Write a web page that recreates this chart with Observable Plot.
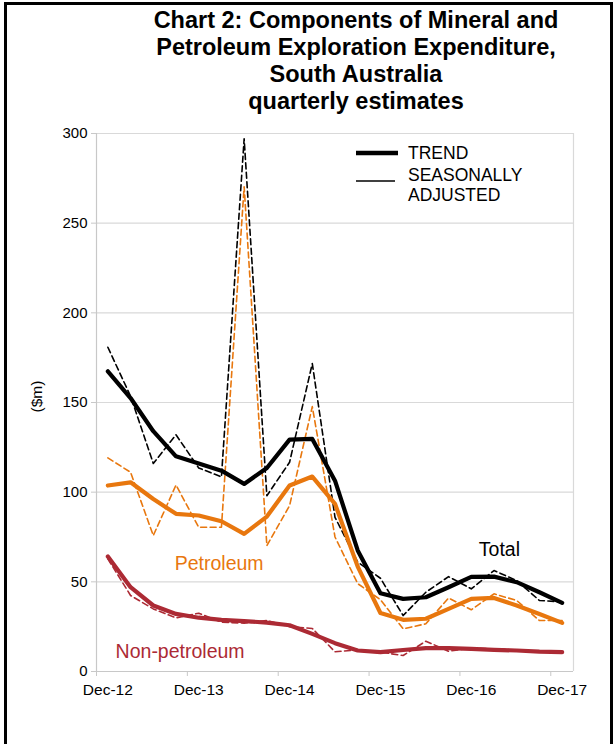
<!DOCTYPE html>
<html>
<head>
<meta charset="utf-8">
<script src="https://cdn.jsdelivr.net/npm/d3@7"></script>
<script src="https://cdn.jsdelivr.net/npm/@observablehq/plot@0.6"></script>
<style>
  html, body { margin: 0; padding: 0; background: #fff; overflow: hidden; }
  body { width: 614px; height: 744px; position: relative; font-family: "Liberation Sans", Arial, sans-serif; }
  #frame { position: absolute; left: 4px; top: 2px; width: 603px; height: 800px; border: 3px solid #000; box-sizing: content-box; pointer-events: none; }
  #title { position: absolute; left: 56px; top: 7px; width: 600px; text-align: center; font-weight: bold; font-size: 23.5px; line-height: 27px; color: #000; white-space: nowrap; }
  #chart { position: absolute; left: 0; top: 120px; }
  #legend { position: absolute; left: 0; top: 0; pointer-events: none; }
</style>
</head>
<body>
<div id="frame"></div>
<div id="title">Chart 2: Components of Mineral and<br>Petroleum Exploration Expenditure,<br>South Australia<br>quarterly estimates</div>
<div id="chart"></div>
<svg id="legend" width="614" height="744">
  <line x1="356" x2="398" y1="153" y2="153" stroke="#000" stroke-width="4.5"/>
  <text x="408" y="153" dy="0.35em" font-size="17.5" font-family="Liberation Sans, Arial, sans-serif">TREND</text>
  <line x1="356" x2="395" y1="181" y2="181" stroke="#000" stroke-width="1.5"/>
  <text x="408" y="175" dy="0.35em" font-size="17.5" font-family="Liberation Sans, Arial, sans-serif">SEASONALLY</text>
  <text x="408" y="195" dy="0.35em" font-size="17.5" font-family="Liberation Sans, Arial, sans-serif">ADJUSTED</text>
</svg>
<script>
// ---- Data ($m, quarterly) ----
const quarters = ["Dec-12","Mar-13","Jun-13","Sep-13","Dec-13","Mar-14","Jun-14","Sep-14","Dec-14","Mar-15","Jun-15","Sep-15","Dec-15","Mar-16","Jun-16","Sep-16","Dec-16","Mar-17","Jun-17","Sep-17","Dec-17"];
const totalTrend = [167.4,152.5,134,120,116,112,104.6,113.5,129.3,129.7,106.4,67.5,43.6,40.5,41.4,47,52.8,52.9,49.8,44.2,38.3];
const totalSA    = [180.8,153.5,116,132,113.5,108.5,297,98,116.7,171.7,86,61,52,31.2,44.2,52.9,46.1,56.3,50.7,39.6,38.8];
const petTrend   = [103.7,105.5,96.2,87.9,87,83.8,76.7,86.4,103.7,108.7,93.5,58.5,32.6,28.8,29.4,34.9,40.5,41,36.8,32.1,27.1];
const petSA      = [119.1,111.1,75.8,104,80.4,80.4,270.3,70.2,92.5,147.7,75,49,40,23.8,26.6,41,34.4,43.3,39.6,28.4,28.4];
const nonTrend   = [64.1,47,36.8,32.1,30,28.8,28.1,27.3,25.8,21,15.8,11.7,10.8,12,13,13,12.6,12.1,11.7,11.1,10.8];
const nonSA      = [62.8,42.4,34.9,29.9,32.5,27.5,27,28.4,25,24,11,12,10.8,8.9,16.9,11.3,13.2,12.6,12.1,11.1,10.8];
const yTicks = [0,50,100,150,200,250,300];
const xLabelIdx = [0,4,8,12,16,20];
const seriesLabels = ["Total","Petroleum","Non-petroleum"];
const labelPos = [[17.24,68],[4.9,60.2],[3.18,11.1]];

const colors = {"Total":"#000000","Petroleum":"#E8770E","Non-petroleum":"#AC2A34"};
const series = [
  {name:"Total", kind:"sa", values: totalSA},
  {name:"Petroleum", kind:"sa", values: petSA},
  {name:"Non-petroleum", kind:"sa", values: nonSA},
  {name:"Non-petroleum", kind:"trend", values: nonTrend},
  {name:"Petroleum", kind:"trend", values: petTrend},
  {name:"Total", kind:"trend", values: totalTrend}
];
const rows = series.flatMap((s, k) => s.values.map((v, i) => ({i, v, name: s.name, kind: s.kind, key: k})));
const saRows = rows.filter(d => d.kind === "sa");
const trRows = rows.filter(d => d.kind === "trend");
const labels = seriesLabels.map((t, k) => ({text: t, i: labelPos[k][0], v: labelPos[k][1]}));
const boundaries = d3.range(-0.5, 20, 4);

const font = "Liberation Sans, Arial, sans-serif";
const chart = Plot.plot({
  width: 614,
  height: 624,
  marginTop: 13,
  marginBottom: 73,
  marginLeft: 96,
  marginRight: 41,
  style: {fontFamily: font, color: "#000", background: "transparent"},
  x: {type: "linear", domain: [-0.5, 20.5]},
  y: {domain: [0, 300]},
  color: {domain: Object.keys(colors), range: Object.values(colors)},
  marks: [
    Plot.ruleY(yTicks.slice(1), {stroke: "#d9d9d9", strokeWidth: 1.2}),
    Plot.ruleX([20.5], {stroke: "#d9d9d9", strokeWidth: 1.2}),
    Plot.ruleX([-0.5], {stroke: "#c8c8c8", strokeWidth: 1.2}),
    Plot.ruleY([0], {stroke: "#c8c8c8", strokeWidth: 1.2}),
    Plot.axisY({ticks: yTicks, tickSize: 5, tickPadding: 4, stroke: "#c8c8c8", fontSize: 15, label: null, tickFormat: d => String(d)}),
    Plot.axisX({ticks: boundaries, tickSize: 5, stroke: "#c8c8c8", tickFormat: () => "", label: null}),
    Plot.axisX({ticks: xLabelIdx, tickSize: 0, tickPadding: 12, fontSize: 15.5, tickFormat: i => quarters[i], label: null}),
    Plot.text(["($m)"], {frameAnchor: "left", text: d => d, rotate: -90, dx: -59, dy: 10, fontSize: 15.5}),
    Plot.line(saRows, {x: "i", y: "v", z: "key", stroke: "name", strokeWidth: 1.6, strokeDasharray: "6,3.5", curve: "linear"}),
    Plot.line(trRows, {x: "i", y: "v", z: "key", stroke: "name", strokeWidth: 4.2, strokeLinejoin: "round", curve: "linear"}),
    Plot.text(labels, {x: "i", y: "v", text: "text", fill: d => d.text, fontSize: 19.5})
  ]
});
document.getElementById("chart").appendChild(chart);
</script>
</body>
</html>
